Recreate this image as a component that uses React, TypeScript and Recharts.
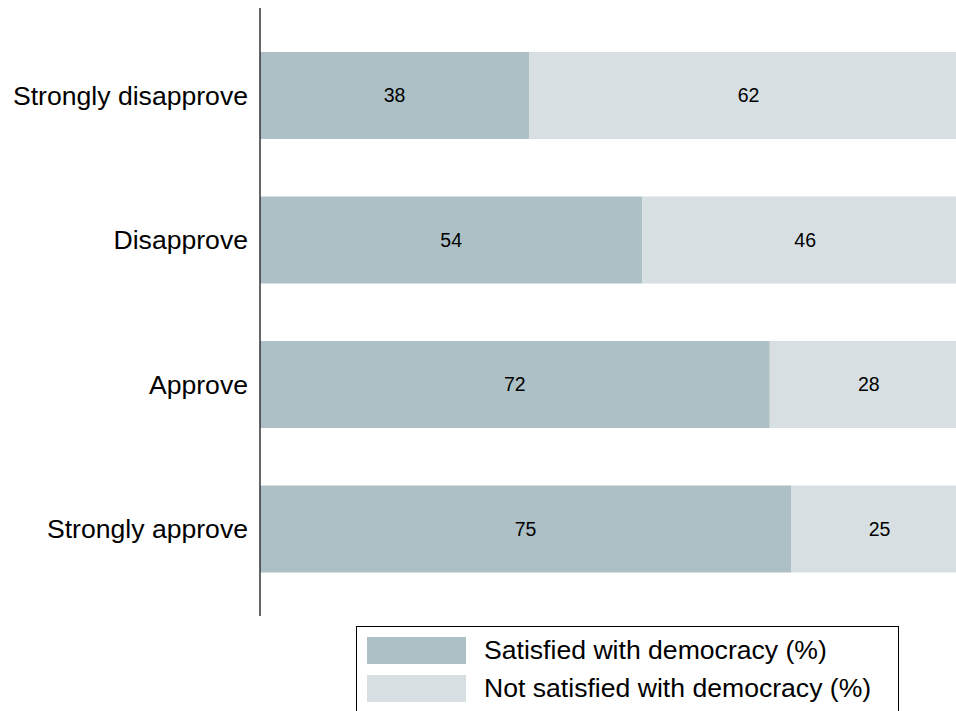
import { Bar, BarChart, LabelList, XAxis, YAxis } from "recharts";

const categories = ["Strongly disapprove", "Disapprove", "Approve", "Strongly approve"];
const satisfied = [38, 54, 72, 75];
const notSatisfied = [62, 46, 28, 25];

const series = [
  { key: "satisfied", name: "Satisfied with democracy (%)", color: "#adc0c5" },
  { key: "notSatisfied", name: "Not satisfied with democracy (%)", color: "#d7dfe2" },
];

const data = categories.map((name, i) => ({
  name,
  satisfied: satisfied[i],
  notSatisfied: notSatisfied[i],
}));

const FONT = "'Liberation Sans', Arial, sans-serif";

export default function App() {
  return (
    <div
      style={{
        position: "fixed",
        left: 0,
        top: 0,
        width: 956,
        height: 711,
        overflow: "hidden",
        background: "#fff",
        fontFamily: FONT,
      }}
    >
      <BarChart
        width={1000}
        height={711}
        data={data}
        layout="vertical"
        margin={{ top: 8, right: 32, bottom: 95, left: 0 }}
      >
        <XAxis type="number" domain={[0, 100]} hide />
        <YAxis
          type="category"
          dataKey="name"
          width={260}
          padding={{ top: 15, bottom: 15 }}
          tickLine={false}
          tickMargin={6}
          axisLine={{ stroke: "#333", strokeWidth: 1.5 }}
          tick={{ fill: "#000", fontSize: 26.6, fontFamily: FONT }}
        />
        {series.map((s) => (
          <Bar
            key={s.key}
            dataKey={s.key}
            stackId="a"
            fill={s.color}
            barSize={87}
            isAnimationActive={false}
          >
            <LabelList
              dataKey={s.key}
              position="center"
              fill="#000"
              fontSize={19.5}
              fontFamily={FONT}
            />
          </Bar>
        ))}
      </BarChart>
      <div
        style={{
          position: "absolute",
          left: 356,
          top: 626,
          width: 543,
          height: 110,
          border: "1.5px solid #000",
          boxSizing: "border-box",
        }}
      >
        {series.map((s, i) => (
          <div
            key={s.key}
            style={{
              position: "absolute",
              left: 10,
              top: 10 + i * 37.5,
              height: 27,
              display: "flex",
              alignItems: "center",
              whiteSpace: "nowrap",
            }}
          >
            <span
              style={{ display: "inline-block", width: 99, height: 27, background: s.color }}
            />
            <span style={{ marginLeft: 18, fontSize: 26.6, color: "#000", lineHeight: "27px" }}>
              {s.name}
            </span>
          </div>
        ))}
      </div>
    </div>
  );
}
